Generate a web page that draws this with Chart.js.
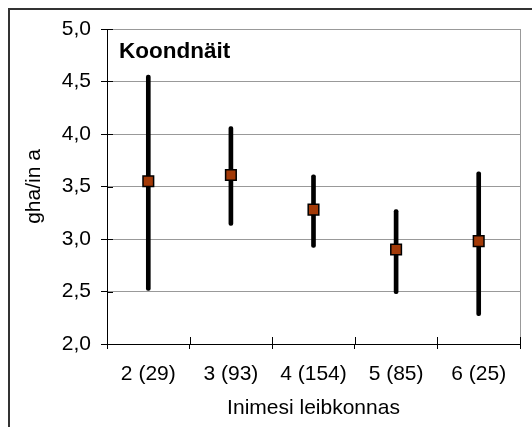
<!DOCTYPE html>
<html>
<head>
<meta charset="utf-8">
<script src="https://cdn.jsdelivr.net/npm/chart.js@4"></script>
<style>
  html, body { margin: 0; padding: 0; background: #fff; overflow: hidden; }
  #raam { position: absolute; left: 8px; top: 8px; width: 600px; height: 600px; border: 2px solid #333; }
  #wrap { position: absolute; left: 0; top: 0; width: 532px; height: 427px; }
</style>
</head>
<body>
<div id="raam"></div>
<div id="wrap"><canvas id="myChart" width="532" height="427"></canvas></div>
<script>
// Leibkonna suurus (vastajate arv sulgudes)
const kategooriad = ['2 (29)', '3 (93)', '4 (154)', '5 (85)', '6 (25)'];
// Keskmine koondnäit, gha/in a
const keskmine = [3.55, 3.61, 3.28, 2.90, 2.98];
// Vahemiku alumine ja ülemine piir
const alumine = [2.51, 3.13, 2.92, 2.48, 2.27];
const ylemine = [4.56, 4.07, 3.61, 3.28, 3.64];

const vahemikud = alumine.map((a, i) => [a, ylemine[i]]);

const kiri = '"Liberation Sans", Arial, sans-serif';

// Excel-stiilis läbivad kriipsud: teljest ka sissepoole
const labivadKriipsud = {
  id: 'labivadKriipsud',
  afterDraw(chart) {
    const ctx = chart.ctx;
    const x = chart.scales.x;
    const y = chart.scales.y;
    const ala = chart.chartArea;
    ctx.save();
    ctx.strokeStyle = '#000';
    ctx.lineWidth = 1;
    y.ticks.forEach((t, i) => {
      const py = Math.round(y.getPixelForTick(i)) + 0.5;
      ctx.beginPath();
      ctx.moveTo(ala.left, py);
      ctx.lineTo(ala.left + 6, py);
      ctx.stroke();
    });
    const samm = (x.getPixelForValue(1) - x.getPixelForValue(0));
    for (let i = 0; i <= kategooriad.length; i++) {
      const px = Math.round(x.getPixelForValue(i) - samm / 2) + 0.5;
      ctx.beginPath();
      ctx.moveTo(px, ala.bottom);
      ctx.lineTo(px, ala.bottom - 7);
      ctx.stroke();
    }
    // Koondnäit pealkiri joonise sees
    ctx.fillStyle = '#000';
    ctx.font = 'bold 22.5px ' + kiri;
    ctx.textBaseline = 'alphabetic';
    ctx.textAlign = 'left';
    ctx.fillText('Koondnäit', ala.left + 12, ala.top + 29);
    ctx.restore();
  }
};

const ctx = document.getElementById('myChart');

new Chart(ctx, {
  data: {
    labels: kategooriad,
    datasets: [{
      type: 'line',
      data: keskmine,
      showLine: false,
      pointStyle: 'rect',
      pointRadius: 7.5,
      pointBackgroundColor: '#a33a08',
      pointBorderColor: '#000',
      pointBorderWidth: 1.5,
      order: 0
    },
    {
      type: 'bar',
      data: vahemikud,
      backgroundColor: '#000',
      barThickness: 4,
      borderSkipped: false,
      borderRadius: 2,
      order: 1
    }]
  },
  options: {
    responsive: false,
    animation: false,
    events: [],
    layout: { padding: { left: 0, top: 29, right: 12, bottom: 0 } },
    plugins: { legend: { display: false }, tooltip: { enabled: false } },
    scales: {
      x: {
        offset: true,
        grid: { display: true, drawOnChartArea: false, offset: true, color: '#000', tickLength: 5 },
        border: { color: '#000', width: 1 },
        ticks: { color: '#000', padding: 13, font: { family: kiri, size: 21 } },
        title: { display: true, text: 'Inimesi leibkonnas', color: '#000', padding: { top: 0, bottom: 6 },
                 font: { family: kiri, size: 21 } },
        afterFit(scale) { scale.height = 83; }
      },
      y: {
        min: 2,
        max: 5,
        grid: { color: '#999', tickLength: 6, tickColor: '#000' },
        border: { color: '#000', width: 1 },
        ticks: {
          stepSize: 0.5,
          color: '#000',
          padding: 10,
          font: { family: kiri, size: 21 },
          callback: v => v.toFixed(1).replace('.', ',')
        },
        title: { display: true, text: 'gha/in a', color: '#000', padding: { top: 22, bottom: 0 },
                 font: { family: kiri, size: 21 } },
        afterFit(scale) { scale.width = 107; }
      }
    }
  },
  plugins: [labivadKriipsud, {
    id: 'paremServ',
    beforeDatasetsDraw(chart) {
      const a = chart.chartArea;
      const c = chart.ctx;
      c.save();
      c.strokeStyle = '#999';
      c.lineWidth = 1;
      c.beginPath();
      c.moveTo(Math.round(a.right) + 0.5, a.top);
      c.lineTo(Math.round(a.right) + 0.5, a.bottom);
      c.stroke();
      c.restore();
    }
  }]
});
</script>
</body>
</html>
